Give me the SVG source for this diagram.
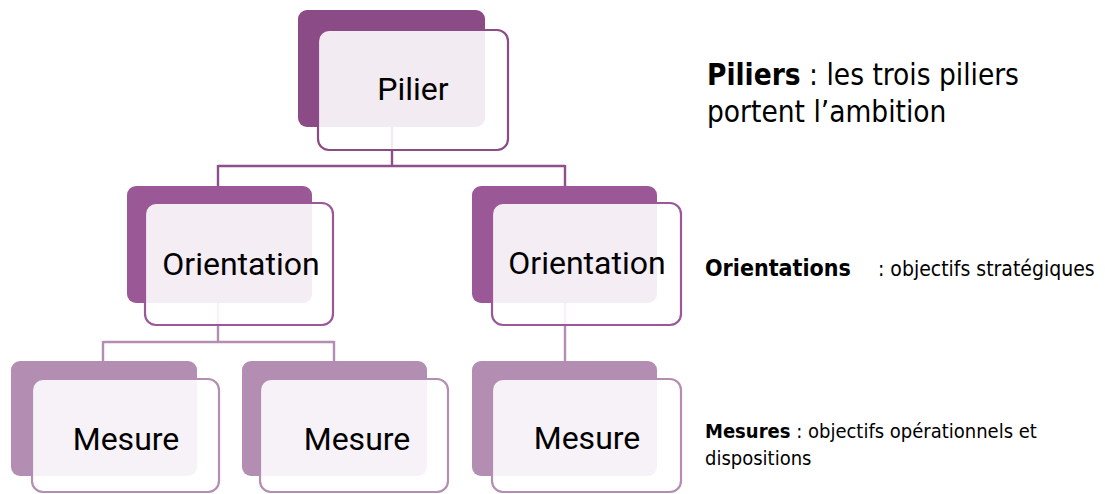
<svg xmlns="http://www.w3.org/2000/svg" width="1105" height="494" viewBox="0 0 1105 494">
<style>
.lbl{font-family:Roboto,"Liberation Sans",sans-serif;font-size:32px;fill:#000;text-anchor:middle}
.front{fill:#fff;fill-opacity:0.89;stroke-width:2.2}
.b1{fill:#8B4B86}.b2{fill:#9A5996}.b3{fill:#B38DB2}
.s1{stroke:#8B4B86}.s2{stroke:#9A5996}.s3{stroke:#B38DB2}
.c1{fill:none;stroke:#8F4F8B;stroke-width:2.4}
.c2{fill:none;stroke:#B38DB2;stroke-width:2.4}
.desc{font-family:"DejaVu Sans Condensed","DejaVu Sans",sans-serif;font-stretch:condensed;fill:#000}
.bold{font-weight:bold}
</style>
<rect width="1105" height="494" fill="#fff"/>
<g id="backs">
<rect class="b1" x="298" y="10" width="187" height="117" rx="9"/>
<rect class="b2" x="127" y="186" width="185" height="117" rx="9"/>
<rect class="b2" x="472" y="186" width="185" height="117" rx="9"/>
<rect class="b3" x="11" y="361" width="186" height="115" rx="9"/>
<rect class="b3" x="242" y="361" width="185" height="115" rx="9"/>
<rect class="b3" x="472" y="361" width="185" height="115" rx="9"/>
</g>
<g id="connectors">
<path class="c1" d="M392 127V166M218 166H565M218 165V186M565 165V186"/>
<path class="c2" d="M218 303V342M103 342H334M103 341V361M334 341V361M565 303V361"/>
</g>
<g id="pilier">
<rect class="front s1" x="318" y="30" width="190" height="120" rx="11"/>
<text class="lbl" x="413" y="100">Pilier</text>
</g>
<g id="orientation1">
<rect class="front s2" x="145" y="203" width="188" height="122" rx="11"/>
<text class="lbl" x="241" y="275">Orientation</text>
</g>
<g id="orientation2">
<rect class="front s2" x="492" y="203" width="189" height="122" rx="11"/>
<text class="lbl" x="587" y="274">Orientation</text>
</g>
<g id="mesure1">
<rect class="front s3" x="32" y="379" width="187" height="113" rx="11"/>
<text class="lbl" x="126" y="450">Mesure</text>
</g>
<g id="mesure2">
<rect class="front s3" x="260" y="379" width="188" height="113" rx="11"/>
<text class="lbl" x="357" y="450">Mesure</text>
</g>
<g id="mesure3">
<rect class="front s3" x="492" y="379" width="189" height="113" rx="11"/>
<text class="lbl" x="587" y="449">Mesure</text>
</g>
<g id="legend">
<text class="desc" x="707" y="85" font-size="29.5"><tspan class="bold">Piliers</tspan> : les trois piliers</text>
<text class="desc" x="707" y="122" font-size="29.5">portent l’ambition</text>
<text class="desc" x="705" y="276" font-size="23"><tspan class="bold">Orientations</tspan><tspan x="878" font-size="21">: objectifs stratégiques</tspan></text>
<text class="desc" x="705" y="438" font-size="20"><tspan class="bold">Mesures</tspan> : objectifs opérationnels et</text>
<text class="desc" x="705" y="465" font-size="20">dispositions</text>
</g>
</svg>
